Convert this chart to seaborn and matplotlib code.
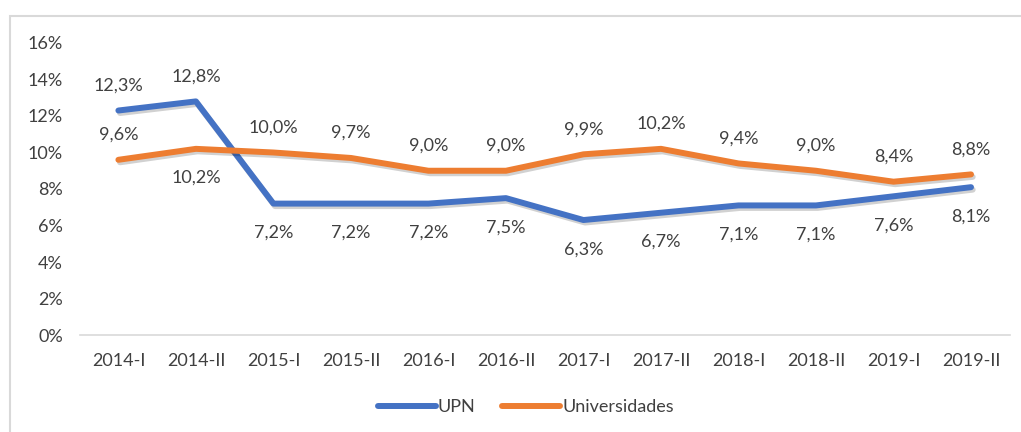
import matplotlib
matplotlib.use("Agg")
import matplotlib.pyplot as plt
import matplotlib.patheffects as pe
from matplotlib.patches import Rectangle
from matplotlib.lines import Line2D
import seaborn as sns
import pandas as pd

periods = ["2014-I", "2014-II", "2015-I", "2015-II", "2016-I", "2016-II",
           "2017-I", "2017-II", "2018-I", "2018-II", "2019-I", "2019-II"]
upn = [12.3, 12.8, 7.2, 7.2, 7.2, 7.5, 6.3, 6.7, 7.1, 7.1, 7.6, 8.1]
universidades = [9.6, 10.2, 10.0, 9.7, 9.0, 9.0, 9.9, 10.2, 9.4, 9.0, 8.4, 8.8]
series_names = ["UPN", "Universidades"]
colors = ["#4472C4", "#ED7D31"]
yticks = [0, 2, 4, 6, 8, 10, 12, 14, 16]

# label placement: +1 above the point, -1 below
upn_side = [1, 1] + [-1] * 10
uni_side = [1, -1] + [1] * 10

sns.set_theme(style="white")
plt.rcParams["font.family"] = ["Lato", "DejaVu Sans"]

df = pd.DataFrame({
    "periodo": periods * 2,
    "valor": upn + universidades,
    "serie": [series_names[0]] * len(periods) + [series_names[1]] * len(periods),
})
df["x"] = df["periodo"].map({p: i for i, p in enumerate(periods)})

fig = plt.figure(figsize=(10.21, 4.32), dpi=100)
ax = fig.add_axes([0.078, 0.2245, 0.911, 0.676])

FS = 13
TXT = "#404040"
shadow = [pe.SimpleLineShadow(offset=(1.2, -1.8), shadow_color="#000000", alpha=0.18),
          pe.Normal()]
sns.lineplot(data=df, x="x", y="valor", hue="serie", palette=colors,
             linewidth=4.3, ax=ax, legend=False, sort=False,
             path_effects=shadow, solid_capstyle="round", solid_joinstyle="round")

ax.set_xlim(-0.5, len(periods) - 0.5)
ax.set_ylim(0, 16)
ax.set_yticks(yticks)
ax.set_yticklabels([f"{t}%" for t in yticks])
ax.set_xticks(range(len(periods)))
ax.set_xticklabels(periods)
ax.tick_params(axis="y", length=0, pad=12, labelsize=FS, labelcolor=TXT)
ax.tick_params(axis="x", length=0, pad=13, labelsize=FS, labelcolor=TXT)
ax.set_xlabel("")
ax.set_ylabel("")
for side in ["top", "right", "left"]:
    ax.spines[side].set_visible(False)
ax.spines["bottom"].set_color("#D9D9D9")
ax.spines["bottom"].set_linewidth(1.2)

def fmt(v):
    return f"{v:.1f}".replace(".", ",") + "%"

for vals, sides in [(upn, upn_side), (universidades, uni_side)]:
    for i, (v, s) in enumerate(zip(vals, sides)):
        dy = 18 if s > 0 else -21
        ax.annotate(fmt(v), (i, v), xytext=(0, dy), textcoords="offset points",
                    ha="center", va="center", fontsize=FS, color=TXT)

handles = [Line2D([0], [0], color=c, lw=4.3, solid_capstyle="round") for c in colors]
fig.legend(handles, series_names, loc="center", bbox_to_anchor=(0.515, 0.058),
           ncol=2, frameon=False, fontsize=FS, handlelength=3.2,
           handletextpad=0.1, columnspacing=1.5, labelcolor=TXT)

fig.patches.append(Rectangle((10 / 1021, -0.2), 1.2, 1.2 - 16 / 432,
                             transform=fig.transFigure, fill=False,
                             edgecolor="#D9D9D9", linewidth=1.5))

fig.savefig("out.png", dpi=100)
